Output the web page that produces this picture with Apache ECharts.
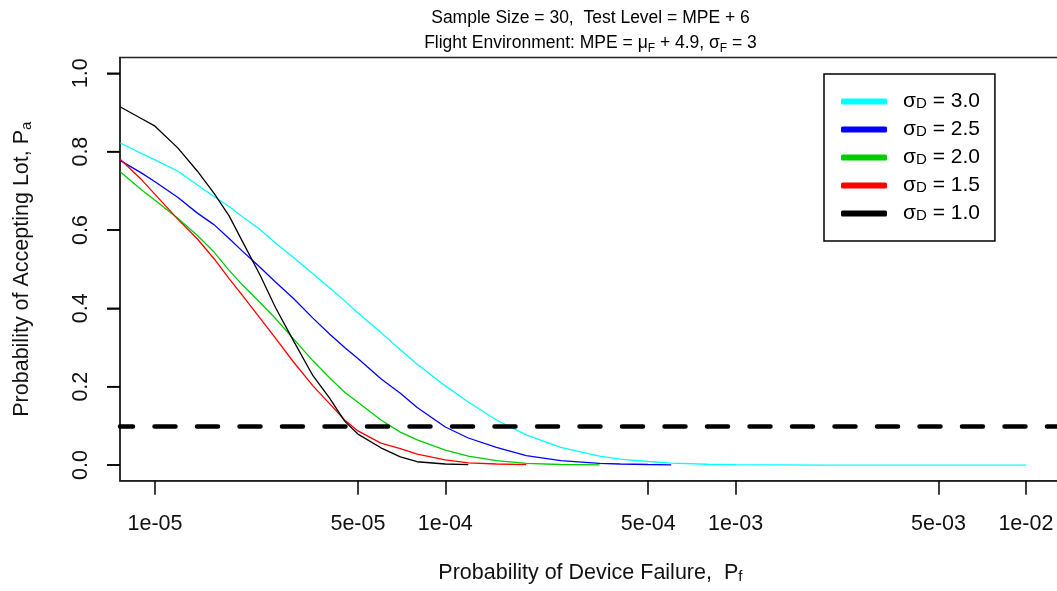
<!DOCTYPE html>
<html><head><meta charset="utf-8">
<script src="https://cdn.jsdelivr.net/npm/echarts@6/dist/echarts.min.js"></script>
<style>html,body{margin:0;padding:0;background:#fff}#c{width:1057px;height:591px}</style>
</head><body><div id="c"></div>
<script>
// ---- data ----
const pf = [7.6e-6, 9e-6, 1e-5, 1.2e-5, 1.4e-5, 1.6e-5, 1.8e-5, 2e-5, 2.3e-5, 2.6e-5,
  3e-5, 3.5e-5, 4e-5, 4.5e-5, 5e-5, 6e-5, 7e-5, 8e-5, 1e-4, 1.2e-4,
  1.5e-4, 1.9e-4, 2.5e-4, 3.4e-4, 4e-4, 5e-4, 6e-4, 8e-4, 1e-3, 2e-3, 5e-3, 1e-2];
const sigmaD = ['3.0', '2.5', '2.0', '1.5', '1.0'];
const pa30 = [0.822, 0.795, 0.779, 0.750, 0.715, 0.685, 0.660, 0.634, 0.601, 0.567,
  0.530, 0.488, 0.452, 0.419, 0.388, 0.338, 0.294, 0.257, 0.202, 0.161,
  0.115, 0.077, 0.045, 0.023, 0.015, 0.009, 0.005, 0.002, 0.001, 0.0, 0.0, 0.0];
const pa25 = [0.777, 0.745, 0.723, 0.683, 0.643, 0.613, 0.578, 0.546, 0.505, 0.467,
  0.425, 0.375, 0.334, 0.300, 0.272, 0.220, 0.183, 0.147, 0.097, 0.069,
  0.045, 0.024, 0.011, 0.004, 0.0026, 0.0013, 0.0005];
const pa20 = [0.748, 0.702, 0.676, 0.629, 0.586, 0.543, 0.497, 0.460, 0.415, 0.374,
  0.322, 0.266, 0.222, 0.186, 0.160, 0.115, 0.084, 0.064, 0.038, 0.023,
  0.0115, 0.0043, 0.0013, 0.0003];
const pa15 = [0.780, 0.728, 0.691, 0.627, 0.577, 0.526, 0.476, 0.433, 0.375, 0.324,
  0.263, 0.202, 0.156, 0.115, 0.087, 0.056, 0.042, 0.028, 0.013, 0.0054,
  0.0026, 0.0008];
const pa10 = [0.914, 0.884, 0.865, 0.809, 0.750, 0.693, 0.636, 0.571, 0.485, 0.402,
  0.317, 0.228, 0.170, 0.112, 0.079, 0.044, 0.021, 0.0084, 0.0026, 0.001];
const xTicks = [1e-5, 5e-5, 1e-4, 5e-4, 1e-3, 5e-3, 1e-2];
const xTickLabels = ['1e-05', '5e-05', '1e-04', '5e-04', '1e-03', '5e-03', '1e-02'];
const yTicks = [0, 0.2, 0.4, 0.6, 0.8, 1.0];
const refLevel = 0.1;

// ---- chart ----
const FONT = '"Liberation Sans", Arial, sans-serif';
const colors = ['#00FFFF', '#0000FF', '#00CD00', '#FF0000', '#000000'];
const curves = [pa30, pa25, pa20, pa15, pa10];
const names = sigmaD.map(s => 'σD = ' + s);
const X_MIN = Math.pow(10, -5.1206), X_MAX = Math.pow(10, -1.8801);

const series = curves.map((arr, k) => ({
  name: names[k],
  type: 'line',
  data: arr.map((v, i) => [pf[i], v]),
  symbol: 'none',
  showSymbol: false,
  lineStyle: { color: colors[k], width: 1.3 },
  itemStyle: { color: colors[k] },
  z: 3
}));
series.push({
  name: 'ref',
  type: 'line',
  data: [],
  markLine: {
    silent: true,
    symbol: ['none', 'none'],
    label: { show: false },
    lineStyle: { type: [21, 21.5], dashOffset: 8, cap: 'round', width: 4.5, color: '#000' },
    data: [{ yAxis: refLevel }]
  },
  z: 4
});
// y tick marks at the left edge of the plot, placed through the chart's own scales
series.push({
  name: 'yticks',
  type: 'custom',
  silent: true,
  clip: false,
  z: 10,
  encode: { x: 0, y: 1 },
  data: yTicks.map(v => [X_MIN, v]),
  renderItem: function (params, api) {
    const p = api.coord([api.value(0), api.value(1)]);
    return {
      type: 'line',
      shape: { x1: p[0] - 13, y1: p[1], x2: p[0], y2: p[1] },
      style: { stroke: '#000', lineWidth: 1.5 }
    };
  }
});

const chart = echarts.init(document.getElementById('c'), null, { renderer: 'canvas' });
try {
chart.setOption({
  animation: false,
  backgroundColor: '#fff',
  title: {
    text: '{t|Sample Size = 30,  Test Level = MPE + 6}\n{t|Flight Environment: MPE = μ}{s|F}{t| + 4.9, σ}{s|F}{t| = 3}',
    left: 590.5,
    top: 6,
    padding: 0,
    textAlign: 'center',
    textStyle: {
      fontFamily: FONT,
      fontWeight: 'normal',
      rich: {
        t: { fontSize: 17.5, lineHeight: 24.5, fontFamily: FONT, fontWeight: 'normal', color: '#000' },
        s: { fontSize: 12, lineHeight: 13, verticalAlign: 'bottom', fontFamily: FONT, fontWeight: 'normal', color: '#000' }
      }
    }
  },
  legend: {
    data: names,
    orient: 'vertical',
    left: 824,
    top: 74,
    padding: [17, 15, 17, 17],
    itemGap: 7,
    itemWidth: 46,
    itemHeight: 6,
    icon: 'roundRect',
    borderColor: '#000',
    borderWidth: 1.5,
    backgroundColor: '#fff',
    selectedMode: false,
    formatter: function (name) {
      const k = names.indexOf(name);
      return '{g|σ}{d|D}{g| = ' + sigmaD[k] + '}';
    },
    textStyle: {
      fontFamily: FONT,
      padding: [0, 0, 0, 11],
      rich: {
        g: { fontSize: 21, lineHeight: 20, fontFamily: FONT, color: '#000' },
        d: { fontSize: 15, lineHeight: 12, verticalAlign: 'bottom', fontFamily: FONT, color: '#000' }
      }
    }
  },
  grid: {
    left: 120, right: -3.7, top: 57.6, bottom: 110.3,
    show: true, borderColor: '#222', borderWidth: 1.5, backgroundColor: 'transparent',
    outerBoundsMode: 'none'
  },
  xAxis: {
    type: 'log',
    logBase: 10,
    min: X_MIN,
    max: X_MAX,
    axisLine: { show: true, onZero: false, lineStyle: { color: '#222', width: 1.5 } },
    splitLine: { show: false },
    minorTick: { show: false },
    axisTick: { show: true, customValues: xTicks, length: 14, lineStyle: { color: '#000', width: 1.5 } },
    axisLabel: {
      customValues: xTicks,
      hideOverlap: false,
      margin: 32,
      fontSize: 21.5,
      fontFamily: FONT,
      color: '#111',
      formatter: function (v) {
        const i = xTicks.findIndex(t => Math.abs(t - v) / t < 1e-6);
        return i >= 0 ? xTickLabels[i] : '';
      }
    },
    name: '{n|Probability of Device Failure,  P}{sub|f}',
    nameLocation: 'middle',
    nameGap: 80,
    nameTextStyle: {
      rich: {
        n: { fontSize: 21.5, fontFamily: FONT, color: '#111', lineHeight: 24 },
        sub: { fontSize: 15, fontFamily: FONT, color: '#111', lineHeight: 14, verticalAlign: 'bottom' }
      }
    }
  },
  yAxis: {
    type: 'value',
    min: -0.04,
    max: 1.04,
    axisLine: { show: true, onZero: false, lineStyle: { color: '#222', width: 1.5 } },
    splitLine: { show: false },
    axisTick: { show: true, customValues: yTicks, length: 13, lineStyle: { color: '#000', width: 1.5 } },
    axisLabel: {
      customValues: yTicks,
      rotate: 90,
      margin: 28,
      fontSize: 21.5,
      fontFamily: FONT,
      color: '#111',
      formatter: v => v.toFixed(1)
    },
    name: '{n|Probability of Accepting Lot, P}{sub|a}',
    nameLocation: 'middle',
    nameGap: 86,
    nameTextStyle: {
      rich: {
        n: { fontSize: 21.5, fontFamily: FONT, color: '#111', lineHeight: 24 },
        sub: { fontSize: 15, fontFamily: FONT, color: '#111', lineHeight: 14, verticalAlign: 'bottom' }
      }
    }
  },
  series: series
});
} catch (e) { console.error(e); }
</script>
</body></html>
